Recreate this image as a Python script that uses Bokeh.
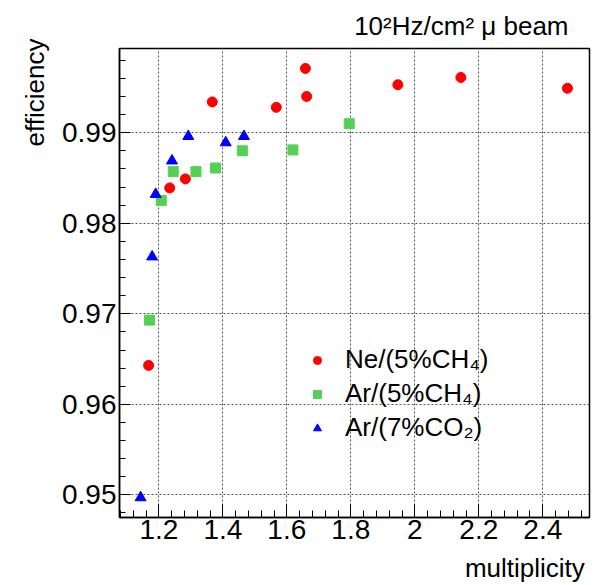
from bokeh.plotting import figure
from bokeh.models import Range1d, FixedTicker, Legend, LegendItem, Title, LinearAxis
from bokeh.embed import file_html
from bokeh.resources import INLINE

# Ne/(5%CH4)
ne_x = [1.168, 1.234, 1.283, 1.367, 1.567, 1.658, 1.662, 1.947, 2.144, 2.477]
ne_y = [0.9643, 0.9839, 0.9849, 0.9934, 0.9928, 0.9971, 0.9940, 0.9953, 0.9961, 0.9949]
# Ar/(5%CH4)
arch_x = [1.171, 1.2075, 1.245, 1.316, 1.377, 1.461, 1.619, 1.795]
arch_y = [0.9693, 0.9825, 0.9857, 0.9857, 0.9861, 0.9880, 0.9881, 0.9910]
# Ar/(7%CO2)
arco_x = [1.143, 1.179, 1.190, 1.241, 1.292, 1.409, 1.466]
arco_y = [0.9497, 0.9763, 0.9832, 0.9869, 0.9896, 0.9889, 0.9896]

x_major = [1.2, 1.4, 1.6, 1.8, 2.0, 2.2, 2.4]
x_minor = [round(1.08 + 0.04 * i, 2) for i in range(37)]
y_major = [0.95, 0.96, 0.97, 0.98, 0.99]
y_minor = [round(0.948 + 0.002 * i, 3) for i in range(26)]

X0, X1 = 1.077, 2.546
Y0, Y1 = 0.9475, 0.9993

FONT = "Liberation Sans"

p = figure(width=609, height=585, output_backend="svg", toolbar_location=None,
           x_range=Range1d(X0, X1), y_range=Range1d(Y0, Y1),
           min_border_left=119, min_border_right=20, min_border_top=45, min_border_bottom=67)
p.background_fill_color = "white"
p.border_fill_color = "white"
p.outline_line_color = "black"
p.outline_line_width = 1.5

for ax, maj, mnr in ((p.xaxis[0], x_major, x_minor), (p.yaxis[0], y_major, y_minor)):
    ax.ticker = FixedTicker(ticks=maj, minor_ticks=mnr)
    ax.major_tick_out = 0
    ax.minor_tick_out = 0
    ax.axis_line_color = "black"
    ax.axis_line_width = 1.5
    ax.major_tick_line_color = "black"
    ax.minor_tick_line_color = "black"
    ax.major_label_text_font = FONT
    ax.major_label_text_font_size = "28px"
    ax.major_label_text_color = "black"

p.xaxis[0].major_label_standoff = 2
p.yaxis[0].major_label_standoff = 3
p.xaxis[0].major_tick_in = 13
p.xaxis[0].minor_tick_in = 7
p.yaxis[0].major_tick_in = 11
p.yaxis[0].minor_tick_in = 6
p.xaxis[0].major_label_overrides = {1.2: "1.2", 1.4: "1.4", 1.6: "1.6", 1.8: "1.8",
                                    2.0: "2", 2.2: "2.2", 2.4: "2.4"}

p.xgrid[0].ticker = FixedTicker(ticks=x_major)
p.ygrid[0].ticker = FixedTicker(ticks=y_major)
for g in (p.xgrid[0], p.ygrid[0]):
    g.grid_line_color = "#555555"
    g.grid_line_dash = "2 2"
    g.grid_line_width = 1

r_ne = p.scatter(ne_x, ne_y, marker="circle", size=10, fill_color="#ff0000", line_color="#ff0000")
r_ar = p.scatter(arch_x, arch_y, marker="square", size=10, fill_color="#55d055", line_color="#55d055")
r_co = p.scatter(arco_x, arco_y, marker="triangle", size=11, fill_color="#0000ff", line_color="#0000ff")

legend = Legend(items=[
    LegendItem(label="Ne/(5%CH₄)", renderers=[r_ne]),
    LegendItem(label="Ar/(5%CH₄)", renderers=[r_ar]),
    LegendItem(label="Ar/(7%CO₂)", renderers=[r_co]),
], location=(188, 74))
legend.border_line_color = None
legend.background_fill_alpha = 0
legend.padding = 0
legend.margin = 0
legend.spacing = 3
legend.glyph_width = 20
legend.glyph_height = 20
legend.label_height = 30
legend.label_standoff = 18
legend.label_text_font = FONT
legend.label_text_font_size = "26px"
legend.label_text_color = "black"
p.add_layout(legend, "center")

title = Title(text="10²Hz/cm² μ beam", align="right", offset=21, standoff=16,
              vertical_align="bottom", text_font=FONT, text_font_size="26px",
              text_font_style="normal", text_color="black")
p.add_layout(title, "above")

ylab = Title(text="efficiency", align="right", offset=-10, standoff=20,
             vertical_align="bottom", text_font=FONT, text_font_size="26px",
             text_font_style="normal", text_color="black")
p.add_layout(ylab, "left")

# x-axis title, right-aligned at the end of the axis (as in ROOT)
xlab_pos = 2.344
xlab_axis = LinearAxis(ticker=FixedTicker(ticks=[xlab_pos], minor_ticks=[]),
                       major_label_overrides={xlab_pos: "multiplicity"})
xlab_axis.axis_line_color = None
xlab_axis.major_tick_line_color = None
xlab_axis.minor_tick_line_color = None
xlab_axis.major_tick_out = 0
xlab_axis.major_tick_in = 0
xlab_axis.minor_tick_out = 0
xlab_axis.minor_tick_in = 0
xlab_axis.major_label_standoff = 11
xlab_axis.major_label_text_font = FONT
xlab_axis.major_label_text_font_size = "26px"
xlab_axis.major_label_text_color = "black"
p.add_layout(xlab_axis, "below")

open("out.html", "w").write(file_html(p, INLINE))
